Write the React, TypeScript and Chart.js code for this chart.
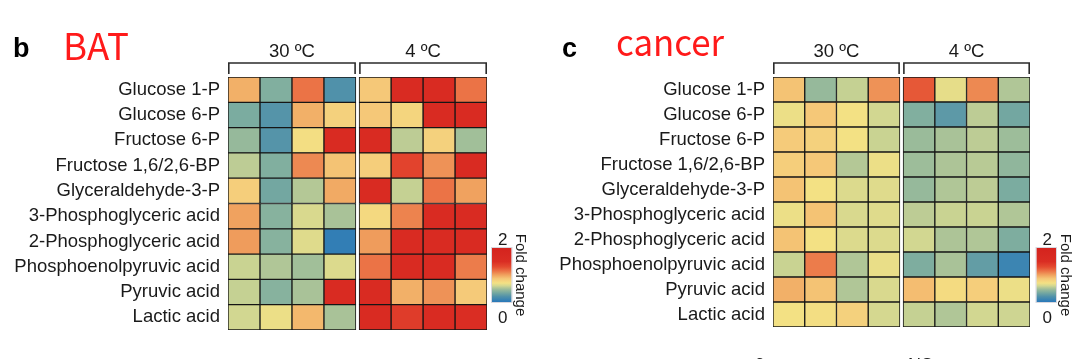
import React, { useEffect, useRef } from 'react';
import { Chart, registerables } from 'chart.js';

Chart.register(...registerables);

// ---------------- data ----------------
const METABOLITES = [
  'Glucose 1-P',
  'Glucose 6-P',
  'Fructose 6-P',
  'Fructose 1,6/2,6-BP',
  'Glyceraldehyde-3-P',
  '3-Phosphoglyceric acid',
  '2-Phosphoglyceric acid',
  'Phosphoenolpyruvic acid',
  'Pyruvic acid',
  'Lactic acid',
];

const GROUP_LABELS = ['30 ºC', '4 ºC'];
const COLS_PER_GROUP = 4;

// fold change, one row per metabolite, 4 replicates per temperature
const BAT_30C = [
  [0.95, 0.38, 1.15, 0.2],
  [0.36, 0.22, 0.95, 0.8],
  [0.45, 0.22, 0.72, 1.6],
  [0.55, 0.38, 1.08, 0.88],
  [0.82, 0.33, 0.53, 0.97],
  [1.0, 0.4, 0.62, 0.5],
  [1.02, 0.4, 0.64, 0.05],
  [0.58, 0.52, 0.48, 0.63],
  [0.57, 0.4, 0.5, 1.6],
  [0.6, 0.68, 0.92, 0.5],
];
const BAT_4C = [
  [0.86, 1.6, 1.6, 1.15],
  [0.86, 0.78, 1.6, 1.6],
  [1.6, 0.55, 0.8, 0.48],
  [0.82, 1.35, 1.05, 1.6],
  [1.6, 0.57, 1.15, 1.0],
  [0.75, 1.1, 1.6, 1.6],
  [1.02, 1.6, 1.6, 1.6],
  [1.15, 1.6, 1.6, 1.12],
  [1.6, 0.95, 1.05, 0.85],
  [1.6, 1.4, 1.6, 1.5],
];
const CANCER_30C = [
  [0.88, 0.45, 0.57, 1.05],
  [0.68, 0.86, 0.7, 0.6],
  [0.84, 0.8, 0.7, 0.58],
  [0.82, 0.86, 0.53, 0.68],
  [0.88, 0.7, 0.63, 0.64],
  [0.68, 0.88, 0.62, 0.64],
  [0.88, 0.7, 0.63, 0.63],
  [0.58, 1.12, 0.52, 0.67],
  [0.95, 0.88, 0.52, 0.62],
  [0.7, 0.72, 0.8, 0.61],
];
const CANCER_4C = [
  [1.25, 0.66, 1.08, 0.52],
  [0.38, 0.25, 0.55, 0.33],
  [0.46, 0.5, 0.55, 0.47],
  [0.47, 0.51, 0.54, 0.43],
  [0.45, 0.52, 0.55, 0.36],
  [0.55, 0.58, 0.58, 0.52],
  [0.6, 0.51, 0.52, 0.37],
  [0.37, 0.5, 0.27, 0.1],
  [0.9, 0.74, 0.82, 0.68],
  [0.57, 0.52, 0.6, 0.59],
];

const SCALE_MIN = 0;
const SCALE_MAX = 2;
const SCALE_TICK_LABELS = ['2', '0'];
const COLORBAR_TITLE = 'Fold change';

// ---------------- styling ----------------
const FONT = "'Liberation Sans', Arial, Helvetica, sans-serif";
const TITLE_FONT = "'Noto Sans CJK SC', 'Noto Sans', sans-serif";
const GAP = 0.1; // white gap between the two temperature blocks (in column units)

const COLOR_STOPS: [number, number[]][] = [
  [0.0, [40, 120, 185]],
  [0.2, [80, 145, 170]],
  [0.35, [120, 170, 160]],
  [0.45, [150, 185, 155]],
  [0.53, [180, 200, 150]],
  [0.6, [210, 215, 145]],
  [0.7, [243, 225, 132]],
  [0.86, [245, 200, 120]],
  [1.0, [240, 162, 95]],
  [1.15, [235, 115, 70]],
  [1.3, [228, 75, 48]],
  [1.5, [218, 45, 35]],
  [2.0, [212, 35, 30]],
];

function colorFor(v: number): string {
  const x = Math.max(SCALE_MIN, Math.min(SCALE_MAX, v));
  for (let i = 0; i < COLOR_STOPS.length - 1; i++) {
    const [a, ca] = COLOR_STOPS[i];
    const [b, cb] = COLOR_STOPS[i + 1];
    if (x >= a && x <= b) {
      const t = (x - a) / (b - a);
      const c = ca.map((q, k) => Math.round(q + (cb[k] - q) * t));
      return `rgb(${c[0]},${c[1]},${c[2]})`;
    }
  }
  const c = COLOR_STOPS[COLOR_STOPS.length - 1][1];
  return `rgb(${c[0]},${c[1]},${c[2]})`;
}

function groupStart(g: number) {
  return g * (COLS_PER_GROUP + GAP);
}

function buildDatasets(v30: number[][], v4: number[][]) {
  const groups = [v30, v4];
  const ds: any[] = [];
  groups.forEach((vals, g) => {
    for (let c = 0; c < COLS_PER_GROUP; c++) {
      const s = groupStart(g) + c;
      ds.push({
        label: `${GROUP_LABELS[g]} #${c + 1}`,
        data: METABOLITES.map(() => [s, s + 1]),
        backgroundColor: METABOLITES.map((_, r) => colorFor(vals[r][c])),
        borderColor: '#161616',
        borderWidth: 1,
        borderSkipped: false,
        grouped: false,
        barPercentage: 1,
        categoryPercentage: 1,
      });
    }
  });
  return ds;
}

const decorPlugin = {
  id: 'decor',
  afterDraw(chart: any, _args: any, opts: any) {
    const { ctx, chartArea } = chart;
    const xs = chart.scales.x;
    ctx.save();

    // panel letter + title
    ctx.textAlign = 'left';
    ctx.textBaseline = 'alphabetic';
    ctx.fillStyle = '#000';
    ctx.font = `bold 27px ${FONT}`;
    ctx.fillText(opts.letter, opts.letterX, 57);
    ctx.fillStyle = '#ff1a1a';
    ctx.font = `37px ${TITLE_FONT}`;
    ctx.fillText(opts.title, opts.titleX, opts.titleY, opts.titleMaxW);

    // group brackets + labels
    GROUP_LABELS.forEach((lab, g) => {
      const x0 = xs.getPixelForValue(groupStart(g)) + 0.8;
      const x1 = xs.getPixelForValue(groupStart(g) + COLS_PER_GROUP) - 0.8;
      const yTop = chartArea.top - 14;
      const yBot = chartArea.top - 3;
      ctx.strokeStyle = '#2b2b2b';
      ctx.lineWidth = 1.6;
      ctx.beginPath();
      ctx.moveTo(x0, yBot);
      ctx.lineTo(x0, yTop);
      ctx.lineTo(x1, yTop);
      ctx.lineTo(x1, yBot);
      ctx.stroke();
      ctx.fillStyle = '#1a1a1a';
      ctx.font = `18.5px ${FONT}`;
      ctx.textAlign = 'center';
      ctx.textBaseline = 'middle';
      ctx.fillText(lab, (x0 + x1) / 2, chartArea.top - 25);
    });

    // colour bar
    const cbL = chartArea.right + opts.cbOffset;
    const cbW = 19.5;
    const cbTop = 248;
    const cbBot = 302;
    const grad = ctx.createLinearGradient(0, cbBot, 0, cbTop);
    COLOR_STOPS.forEach(([v]) => grad.addColorStop((v - SCALE_MIN) / (SCALE_MAX - SCALE_MIN), colorFor(v)));
    ctx.fillStyle = grad;
    ctx.fillRect(cbL, cbTop, cbW, cbBot - cbTop);
    ctx.strokeStyle = 'rgba(200,200,210,0.7)';
    ctx.lineWidth = 1;
    ctx.strokeRect(cbL - 0.5, cbTop - 0.5, cbW + 1, cbBot - cbTop + 1);

    ctx.fillStyle = '#1a1a1a';
    ctx.font = `17px ${FONT}`;
    ctx.textAlign = 'center';
    ctx.textBaseline = 'middle';
    ctx.fillText(SCALE_TICK_LABELS[0], cbL + cbW / 2 + 1, 240);
    ctx.fillText(SCALE_TICK_LABELS[1], cbL + cbW / 2 + 1, 318);

    ctx.save();
    ctx.translate(cbL + cbW + 9, 275);
    ctx.rotate(Math.PI / 2);
    ctx.font = `15px ${FONT}`;
    ctx.fillText(COLORBAR_TITLE, 0, 0);
    ctx.restore();

    // clipped text of the next panel row
    if (opts.footer) {
      ctx.fillStyle = '#222';
      ctx.font = `18px ${FONT}`;
      ctx.textAlign = 'left';
      ctx.textBaseline = 'alphabetic';
      ctx.fillText('c', 215, 368);
      ctx.fillText('NS', 368, 371);
    }
    ctx.restore();
  },
};

function makeChart(canvas: HTMLCanvasElement, v30: number[][], v4: number[][], geom: any) {
  return new Chart(canvas, {
    type: 'bar',
    data: { labels: METABOLITES, datasets: buildDatasets(v30, v4) },
    options: {
      indexAxis: 'y',
      animation: false,
      responsive: false,
      maintainAspectRatio: false,
      layout: { padding: { left: 0, right: geom.padRight, top: geom.padTop, bottom: geom.padBottom } },
      scales: {
        x: {
          type: 'linear',
          display: false,
          min: 0,
          max: 2 * COLS_PER_GROUP + GAP,
        },
        y: {
          type: 'category',
          grid: { display: false, drawTicks: false },
          border: { display: false },
          ticks: {
            color: '#1a1a1a',
            font: { family: FONT, size: 18.5 },
            padding: 8,
            autoSkip: false,
          },
          afterFit: (scale: any) => {
            scale.width = geom.yWidth;
          },
        },
      },
      plugins: {
        legend: { display: false },
        tooltip: { enabled: false },
        decor: geom.decor,
      } as any,
    },
    plugins: [decorPlugin],
  } as any);
}

export default function App() {
  const leftRef = useRef<HTMLCanvasElement>(null);
  const rightRef = useRef<HTMLCanvasElement>(null);

  useEffect(() => {
    const left = makeChart(leftRef.current!, BAT_30C, BAT_4C, {
      yWidth: 228,
      padRight: 53,
      padTop: 77,
      padBottom: 29,
      decor: { letter: 'b', letterX: 13, title: 'BAT', titleX: 63, titleY: 60, titleMaxW: 66, cbOffset: 5, footer: false },
    });
    const right = makeChart(rightRef.current!, CANCER_30C, CANCER_4C, {
      yWidth: 233,
      padRight: 50,
      padTop: 77,
      padBottom: 32,
      decor: { letter: 'c', letterX: 22, title: 'cancer', titleX: 76, titleY: 56, titleMaxW: 108, cbOffset: 6.5, footer: true },
    });
    return () => {
      left.destroy();
      right.destroy();
    };
  }, []);

  return (
    <div style={{ position: 'absolute', left: 0, top: 0, width: 1080, height: 359, background: '#fff', overflow: 'hidden' }}>
      <canvas ref={leftRef} width={540} height={359} style={{ position: 'absolute', left: 0, top: 0, width: 540, height: 359 }} />
      <canvas ref={rightRef} width={540} height={359} style={{ position: 'absolute', left: 540, top: 0, width: 540, height: 359 }} />
    </div>
  );
}
